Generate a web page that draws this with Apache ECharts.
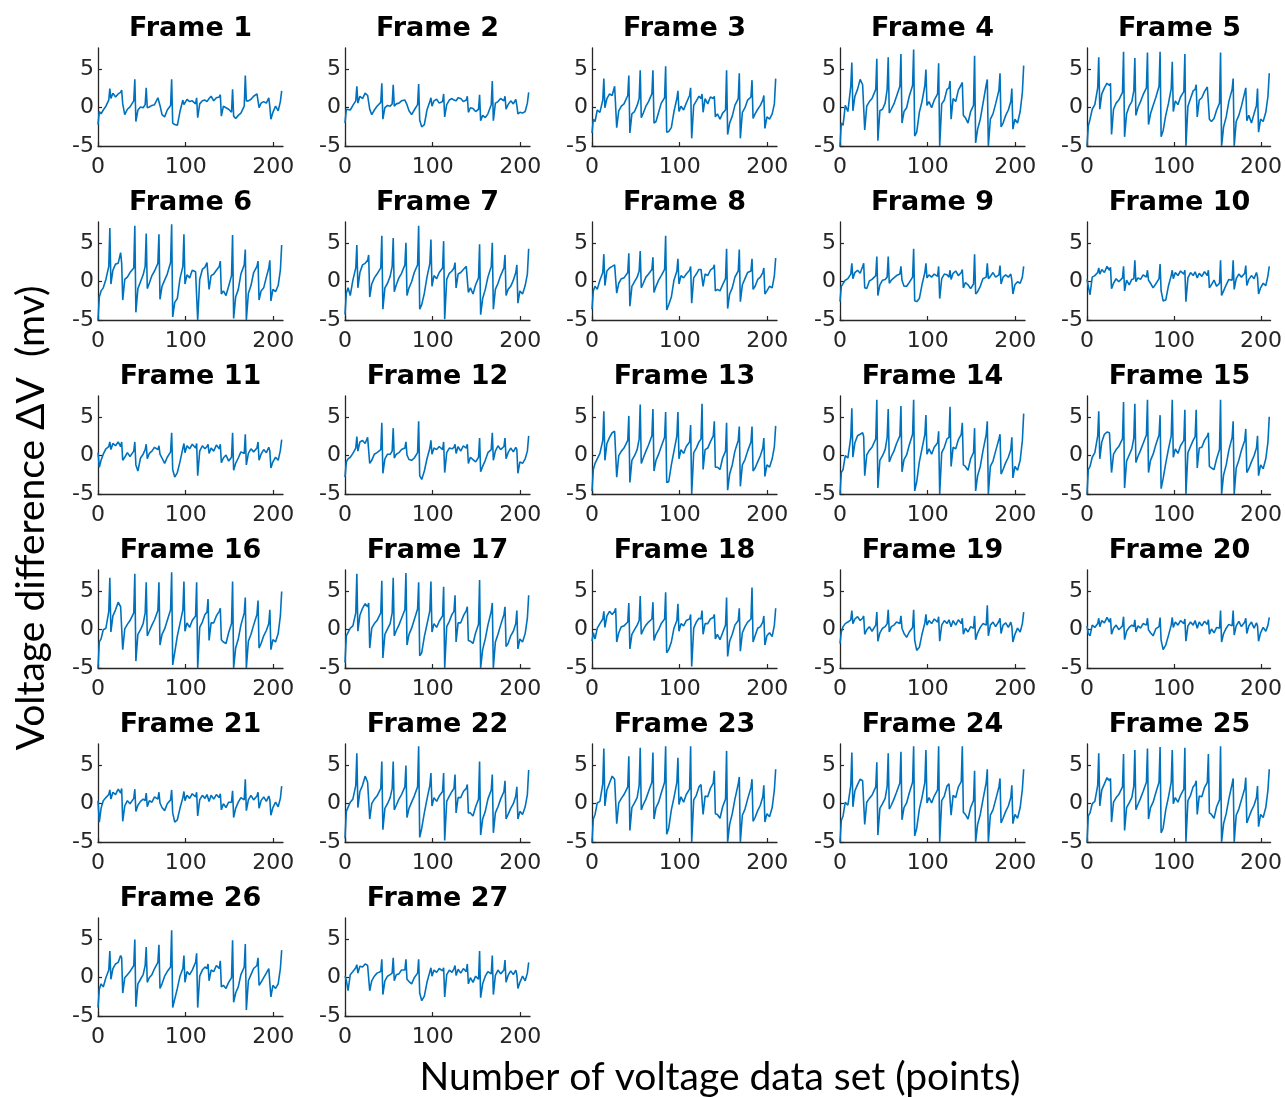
<!DOCTYPE html>
<html><head><meta charset="utf-8">
<script src="https://cdn.jsdelivr.net/npm/echarts@6/dist/echarts.min.js"></script>
<style>html,body{margin:0;padding:0;background:#fff;}#c{width:1285px;height:1097px;}</style>
</head><body><div id="c"></div>
<script>
// x positions (points) at which the traces were read
const XS = [0,1.5,3.5,6,9,12.3, 13.5,14.7,17,20,23,25.8, 27,28.2,30.5,33.5,36.5,40.8, 42,43.2,45.5,48.5,51.5,53.8, 55,56.2,58.5,61.5,64.5,68.3, 69.5,70.7,73,76,79,82.8, 84,85.2,87.5,90.5,93.5,96.8, 98,99.2,101.5,104.5,107.5,111.3, 112.5,113.7,116,119,122,124.3, 125.5,126.7,129,132,135,138.3, 139.5,140.7,143,146,149,152.3, 153.5,154.7,157,160,163,166.8, 168,169.2,171.5,174.5,177.5,181.3, 182.5,183.7,186,189,192,194.8, 196,197.2,199.5,202.5,205.5,208,209.5];

const frame1 = [-2.2,-0.5,-0.8,-0.3,0.2,1.0, 2.5,1.2,1.9,1.4,1.8,2.0, 2.3,0.5,-0.9,-0.2,0.1,0.9, 3.7,-1.8,-0.3,0.1,0.0,0.4, 2.6,0.0,0.1,0.3,0.4,1.3, 1.5,0.3,-0.9,-1.2,-0.3,0.3, 3.7,-2.0,-2.2,-2.3,-0.5,1.0, 0.4,0.2,1.1,0.8,0.9,0.5, 1.3,-1.3,0.5,0.9,1.0,0.8, 0.9,1.2,1.5,0.9,1.3,1.4, 1.7,-1.1,0.2,0.0,-0.2,-0.6, 2.4,-1.1,-1.4,-1.0,-0.7,0.2, 4.2,0.9,0.9,1.1,1.5,1.8, 2.0,0.0,0.6,0.8,0.6,1.3, 0.1,-1.5,-0.6,0.2,-0.4,0.8,2.2];
const frame2 = [-2.0,-0.2,-0.1,-0.3,0.3,0.9, 2.8,0.6,1.5,1.2,1.9,1.6, 1.8,-0.2,-0.9,-0.3,0.2,0.7, 3.2,-1.5,0.0,0.3,0.2,0.5, 3.0,0.2,0.5,0.6,0.9,1.0, 1.2,0.4,-0.4,-0.9,-0.3,0.4, 3.1,-1.6,-2.5,-2.2,-0.3,0.8, 1.3,0.2,0.9,1.1,0.6,0.8, 1.8,-1.2,0.4,1.0,1.2,1.0, 1.1,0.9,1.3,1.2,0.8,1.0, 1.5,-0.6,0.0,-0.1,-0.5,-0.2, 1.7,-1.7,-1.0,-1.3,-0.8,0.4, 3.5,-1.7,0.6,0.8,1.2,0.9, 1.5,-0.2,0.4,0.9,0.5,1.1, 0.3,-0.8,-0.6,-0.7,-0.5,0.6,2.0];
const frame3 = [-3.3,-1.5,-1.8,-0.3,-0.6,1.0, 3.8,0.0,1.2,1.8,1.6,2.8, 2.8,-2.6,-0.4,0.2,0.5,1.6, 4.2,-3.3,-0.8,-0.5,0.3,1.2, 4.9,-1.3,-0.7,0.2,0.8,1.8, 4.9,-2.0,-1.8,-0.6,0.6,1.3, 5.4,-3.2,-3.1,-2.6,-0.5,1.2, 2.2,-0.5,0.2,-0.3,0.6,1.6, 2.6,-4.0,0.3,0.9,1.5,1.2, 1.8,-0.6,1.2,0.5,1.4,1.2, 1.5,-1.2,-0.8,-1.5,-0.7,-0.3, 4.9,-3.5,-2.0,-1.1,0.3,1.2, 4.5,-4.0,-0.6,0.0,1.0,1.4, 3.6,-1.4,-0.8,-0.2,0.3,1.0, 1.6,-2.7,-1.2,-1.5,-0.8,0.5,3.8];
const frame4 = [-5.0,-2.0,-2.3,0.3,-0.5,2.8, 5.9,-0.4,1.5,2.4,3.7,3.0, 2.9,-2.9,0.2,0.8,1.2,2.4, 6.4,-4.3,-0.4,-0.2,0.6,2.4, 6.6,-0.7,-0.2,0.5,1.5,2.8, 7.0,-2.0,-0.5,0.0,1.5,2.9, 7.6,-3.7,-3.2,-0.6,0.8,2.9, 5.0,0.3,0.8,0.0,1.0,1.8, 5.8,-5.0,0.5,1.0,2.4,2.6, 3.5,-1.5,1.2,0.8,2.3,3.0, 3.3,-1.0,-1.3,-2.0,-0.5,0.3, 6.8,-4.6,-2.8,-1.5,0.5,3.0, 3.7,-5.0,-1.5,-0.8,0.5,2.3, 4.5,-2.5,-2.0,-1.0,-0.3,0.8, 2.5,-2.8,-1.5,-2.0,-0.5,2.0,5.5];
const frame5 = [-5.0,-2.4,-1.5,-0.2,0.4,2.6, 6.6,-0.2,1.8,2.6,3.2,2.9, 3.2,-3.5,-0.2,0.6,1.0,2.0, 7.3,-3.8,-0.8,0.2,0.8,2.2, 6.5,-1.0,0.0,0.8,1.7,2.6, 7.2,-2.2,-0.8,0.3,1.3,2.8, 7.3,-3.8,-3.0,-1.0,0.5,2.5, 6.0,-0.5,0.9,0.4,1.4,2.1, 7.0,-5.0,0.2,1.2,2.2,2.4, 3.0,-1.2,1.0,1.3,2.1,2.7, 2.7,-1.5,-1.8,-1.4,-0.3,0.6, 7.2,-5.0,-2.5,-1.2,0.8,2.4, 3.8,-5.0,-1.8,-1.0,0.2,2.0, 2.6,-1.7,-1.0,-2.0,-0.8,0.3, 2.5,-3.2,-1.5,-1.8,-0.6,1.5,4.5];
const frame6 = [-5.0,-2.0,-1.2,-0.8,0.3,2.0, 7.0,-0.3,1.5,2.3,2.4,3.8, 2.4,-2.4,0.3,0.6,1.2,1.8, 7.3,-4.0,-0.9,0.0,0.9,2.0, 6.3,-0.9,-0.2,0.8,1.4,2.4, 6.2,-2.3,-0.6,0.2,1.0,2.5, 7.5,-4.6,-2.7,-2.2,0.4,2.0, 6.2,-0.3,0.9,0.5,1.5,1.3, 1.2,-5.0,0.3,1.6,1.9,2.5, 2.6,-1.0,0.8,1.0,1.5,2.0, 2.7,-1.6,-1.2,-1.8,-0.6,0.8, 6.1,-4.8,-2.0,-1.0,1.0,2.2, 4.2,-5.0,-1.5,-0.5,1.2,2.0, 2.7,-2.4,-1.2,-0.8,0.6,1.8, 2.8,-2.5,-1.0,-1.3,-0.5,1.5,4.8];
const frame7 = [-4.3,-1.5,-0.8,-1.8,0.2,1.8, 4.8,-0.8,1.2,2.2,2.4,2.8, 3.5,-2.0,-0.3,0.5,1.0,1.8, 6.0,-3.6,-0.8,-0.2,0.7,2.0, 5.7,-1.3,-0.4,0.5,1.1,2.2, 5.1,-1.8,-0.8,0.0,1.2,2.2, 7.3,-3.6,-3.0,-1.5,0.6,2.4, 5.5,-0.6,0.8,0.4,1.2,1.8, 5.3,-4.9,0.3,1.1,1.4,1.8, 2.5,-0.8,1.0,1.2,1.6,2.0, 2.0,-1.4,-0.8,-1.6,-0.4,0.5, 4.9,-4.3,-2.2,-1.0,0.6,2.0, 5.1,-3.6,-1.0,-0.2,0.8,1.8, 3.5,-1.8,-1.0,-0.6,0.2,1.2, 2.2,-2.8,-1.2,-1.6,-0.5,1.0,4.3];
const frame8 = [-3.6,-1.2,-0.6,-1.0,0.2,1.2, 3.6,-0.5,1.4,1.8,2.0,2.2, 2.3,-1.5,-0.2,0.4,0.5,1.2, 3.7,-3.2,-0.6,0.0,0.6,1.4, 4.0,-0.8,-0.2,0.6,1.0,1.6, 3.2,-1.4,-0.6,0.2,0.8,1.6, 6.0,-3.7,-3.0,-2.0,0.2,1.4, 3.0,-0.3,0.8,0.5,1.0,1.5, 2.0,-2.8,0.5,1.0,1.6,1.6, 1.8,-0.6,1.0,0.8,1.5,1.8, 2.2,-1.2,-1.0,-1.2,-0.4,0.4, 4.3,-3.5,-1.6,-0.8,0.6,1.4, 4.2,-2.6,-0.4,0.4,1.2,1.4, 3.0,-1.0,-0.6,0.3,0.6,1.2, 1.8,-1.6,-1.2,-0.6,-0.8,0.8,3.1];
const frame9 = [-2.6,-0.6,-0.8,0.2,0.4,1.0, 2.4,0.4,1.2,1.5,1.1,2.0, 2.4,-0.8,-0.9,0.1,0.3,0.8, 3.3,-1.8,-0.4,0.2,0.3,0.6, 3.3,-0.2,0.2,0.5,0.8,1.0, 2.0,0.2,-0.6,-0.6,-0.1,0.6, 4.3,-2.5,-2.6,-2.2,-0.4,1.2, 2.4,0.5,0.9,0.6,1.0,0.7, 2.0,-2.2,0.4,1.0,0.9,0.6, 1.5,0.3,1.1,1.4,0.8,1.2, 1.6,-0.8,-0.1,-0.4,-0.9,-0.3, 3.6,-1.6,-1.3,-0.6,0.4,0.6, 2.4,0.4,0.7,1.2,0.6,0.9, 2.1,-0.3,0.6,0.9,0.6,1.0, 0.2,-1.6,-0.4,0.0,-0.2,0.6,2.0];
const frame10 = [0.3,-0.6,-1.7,0.6,0.8,1.2, 1.8,1.0,1.6,1.2,2.0,1.5, 1.9,-0.9,-0.2,0.4,0.0,0.5, 2.0,-1.2,0.2,-0.4,0.3,0.4, 2.8,0.0,0.5,0.3,0.9,0.6, 1.5,0.2,-0.2,-0.8,-0.3,0.4, 2.3,-1.2,-2.5,-2.4,-0.6,0.8, 1.5,0.4,1.2,0.8,1.4,1.0, 1.5,-2.6,0.5,1.2,0.8,1.3, 1.4,0.5,1.1,0.7,1.3,0.8, 1.5,-0.8,-0.4,0.2,-0.6,-0.2, 2.8,-1.8,-1.2,-0.4,0.3,0.2, 2.8,-1.0,0.4,1.0,0.6,1.1, 2.1,-0.5,0.3,0.8,0.4,1.2, 0.6,-1.6,-0.8,-0.2,-0.5,0.8,2.0];
const frame11 = [0.4,-1.5,-0.6,0.2,0.9,1.2, 1.8,0.8,1.6,1.3,1.8,1.2, 1.8,-0.6,-0.2,0.4,-0.1,0.6, 1.8,-1.2,-2.0,-0.3,0.2,0.8, 1.5,-0.4,0.3,0.6,1.1,0.8, 1.3,0.2,-0.3,-1.0,-0.2,0.5, 3.0,-1.8,-2.8,-2.2,-0.8,1.0, 1.6,0.4,1.3,0.9,1.5,1.0, 1.6,-2.6,0.6,1.3,0.9,1.2, 1.5,0.3,1.0,0.6,1.4,0.9, 1.5,-0.9,-0.3,0.1,-0.7,-0.2, 3.0,-1.9,-1.0,-0.3,0.5,0.3, 2.8,-1.2,0.3,0.9,0.5,1.0, 1.8,-0.6,0.2,0.8,0.4,1.1, 0.6,-1.6,-0.8,-0.2,-0.6,0.7,2.1];
const frame12 = [-2.8,-0.8,-0.4,-0.2,0.3,1.0, 2.5,0.6,1.8,2.0,1.6,2.4, 2.4,-1.0,-0.6,0.2,0.4,0.8, 4.3,-2.3,-0.4,0.2,0.2,0.6, 3.6,-0.3,0.2,0.4,0.8,1.0, 1.8,0.1,-0.5,-0.6,-0.3,0.4, 4.5,-2.6,-3.1,-2.0,-0.4,1.0, 2.0,0.2,1.0,0.8,1.2,0.8, 1.8,-2.2,0.4,1.0,0.9,1.1, 1.5,0.3,1.2,0.6,1.3,1.0, 1.5,-1.0,-0.2,-0.5,-0.8,-0.2, 2.3,-2.1,-1.4,-0.6,0.4,0.8, 3.0,-0.6,0.6,1.3,0.8,1.2, 2.3,-0.4,0.4,1.0,0.5,1.1, 0.8,-2.3,-0.8,-1.0,-0.4,0.6,2.6];
const frame13 = [-4.6,-1.8,-1.0,-0.4,0.3,2.0, 5.8,-0.6,1.6,2.4,3.0,3.2, 3.0,-2.8,0.0,0.6,1.0,2.0, 5.2,-3.5,-0.6,0.0,0.8,2.2, 6.7,-1.0,-0.3,0.6,1.4,2.6, 6.1,-2.0,-0.6,0.2,1.2,2.4, 5.7,-3.5,-3.4,-1.2,0.6,2.6, 5.7,-0.4,0.8,0.3,1.2,1.8, 4.0,-5.0,0.4,1.0,1.8,2.2, 6.8,-1.8,0.8,1.0,1.8,2.6, 4.5,-1.5,-1.5,-1.8,-0.3,0.6, 4.3,-4.5,-2.4,-1.2,0.6,2.0, 3.8,-4.0,-1.2,-0.5,0.6,1.8, 3.8,-2.0,-1.6,-0.8,0.0,1.0, 2.3,-2.7,-1.2,-1.5,-0.4,1.2,3.9];
const frame14 = [-5.0,-2.2,-1.8,0.0,-0.3,2.4, 6.2,-0.2,1.7,2.6,2.8,3.0, 2.5,-2.6,0.1,0.7,1.1,2.2, 7.3,-4.2,-0.6,0.0,0.8,2.4, 6.1,-0.8,-0.1,0.6,1.6,2.6, 6.5,-2.1,-0.5,0.1,1.4,2.8, 7.3,-4.6,-3.4,-0.8,0.9,2.8, 5.3,0.2,0.9,0.2,1.1,1.7, 3.2,-5.0,0.4,1.1,2.2,2.4, 6.4,-1.4,1.1,0.9,2.1,2.8, 4.3,-1.2,-1.4,-1.9,-0.4,0.4, 3.6,-4.6,-2.6,-1.4,0.6,2.8, 4.5,-5.0,-1.4,-0.7,0.6,2.2, 2.8,-2.4,-1.8,-0.9,-0.2,0.8, 2.4,-2.9,-1.4,-1.9,-0.6,2.0,5.5];
const frame15 = [-5.0,-1.8,-1.4,-0.2,0.4,2.6, 5.8,-0.4,1.8,2.8,3.1,3.0, 3.2,-2.2,0.2,0.8,1.2,2.2, 7.0,-4.2,-0.7,0.1,0.9,2.3, 6.8,-0.9,-0.1,0.7,1.6,2.7, 7.3,-2.2,-0.6,0.2,1.4,2.7, 5.3,-4.3,-3.0,-1.0,0.8,2.6, 7.3,-0.2,0.9,0.3,1.3,2.0, 6.0,-5.0,0.4,1.2,2.0,2.5, 6.0,-1.6,1.0,1.1,2.0,2.6, 3.0,-1.4,-1.6,-1.8,-0.4,0.8, 7.3,-5.0,-2.5,-1.2,0.7,2.4, 4.5,-5.0,-1.6,-0.6,0.7,2.0, 3.5,-2.2,-1.7,-0.8,0.0,1.0, 2.6,-2.6,-1.2,-1.7,-0.4,1.8,5.1];
const frame16 = [-5.0,-1.6,-1.2,0.0,0.2,2.4, 6.8,-0.3,1.8,2.6,3.6,3.0, 2.8,-2.6,0.1,0.7,1.2,2.2, 7.3,-4.1,-0.6,0.0,0.8,2.2, 6.2,-0.8,-0.2,0.6,1.3,2.5, 6.2,-2.0,-0.6,0.1,1.2,2.6, 7.5,-4.6,-3.0,-0.8,0.8,2.6, 6.3,-0.2,0.9,0.3,1.2,1.8, 6.2,-5.0,0.3,1.0,2.0,2.3, 4.0,-1.4,0.9,0.9,1.8,2.4, 2.8,-1.3,-1.6,-1.8,-0.4,0.8, 6.3,-5.0,-2.4,-1.2,0.6,2.2, 4.2,-5.0,-1.5,-0.6,0.6,2.0, 3.8,-2.4,-1.8,-0.8,-0.1,0.8, 2.6,-2.6,-1.3,-1.6,-0.5,1.8,5.0];
const frame17 = [-4.3,-0.8,-1.0,0.2,0.5,2.2, 7.3,-0.2,1.9,2.8,3.4,3.0, 3.5,-2.4,0.2,0.8,1.2,2.2, 6.4,-3.7,-0.6,0.1,0.8,2.2, 6.8,-0.8,-0.1,0.6,1.5,2.6, 7.4,-2.0,-0.6,0.2,1.3,2.7, 6.2,-3.4,-3.0,-0.9,0.7,2.5, 6.3,-0.3,0.8,0.3,1.1,1.8, 5.6,-5.0,0.4,1.1,2.0,2.4, 4.5,-1.6,0.9,0.9,1.8,2.5, 3.0,-1.4,-1.5,-1.8,-0.4,0.7, 6.5,-5.0,-2.6,-1.2,0.6,2.4, 3.5,-5.0,-1.6,-0.6,0.6,2.0, 3.0,-2.2,-1.8,-0.8,-0.2,0.8, 2.5,-2.5,-1.2,-1.6,-0.5,1.5,4.5];
const frame18 = [-1.5,-0.4,-1.2,0.2,0.8,1.4, 2.4,0.3,1.8,2.4,2.0,2.4, 2.8,-1.6,-0.4,0.4,0.5,1.0, 3.5,-2.5,-0.6,0.0,0.6,1.2, 4.4,-0.6,0.0,0.6,1.0,1.4, 3.6,-1.4,-0.6,0.0,0.8,1.4, 4.9,-3.0,-2.6,-1.6,0.2,1.2, 3.4,-0.2,0.8,0.5,1.2,1.4, 2.0,-4.8,0.2,1.0,1.5,1.4, 2.5,-0.6,0.8,0.8,1.4,1.6, 2.0,-1.2,-0.6,-1.3,-0.4,0.6, 4.2,-3.5,-1.5,-0.6,0.6,1.2, 2.8,-2.8,-0.4,0.4,1.0,1.4, 5.5,-1.6,-0.8,0.2,0.4,1.0, 1.8,-2.0,-0.8,-0.4,-0.9,0.6,2.8];
const frame19 = [-1.8,-0.3,0.4,0.8,1.0,1.3, 2.5,0.8,1.4,1.7,1.2,1.5, 1.8,-0.6,0.0,0.4,-0.2,0.6, 2.3,-1.5,-0.4,0.2,0.4,0.8, 2.6,-0.3,0.4,0.6,1.0,0.8, 1.8,0.2,-0.5,-1.0,-0.3,0.3, 2.6,-1.4,-2.7,-2.3,-0.6,0.9, 2.0,0.6,1.2,0.8,1.4,1.0, 1.7,-1.5,0.6,1.2,0.8,1.3, 1.4,0.4,1.2,0.6,1.3,0.8, 1.5,-0.6,0.2,-0.3,0.4,0.2, 1.8,-1.3,-0.4,0.3,0.8,0.6, 3.2,-0.8,0.6,1.0,0.4,1.1, 1.5,-0.5,0.6,0.9,0.3,1.0, 0.4,-1.6,-0.6,0.2,-0.3,0.8,2.3];
const frame20 = [0.5,-0.5,-0.8,0.6,0.3,0.8, 1.5,0.4,1.2,0.9,1.6,1.0, 1.5,-0.6,0.2,0.6,0.0,0.5, 1.7,-1.3,-0.2,0.3,0.6,0.4, 1.3,-0.3,0.5,0.2,0.8,0.6, 1.5,0.0,-0.4,-0.8,0.1,0.4, 1.6,-1.4,-2.6,-2.0,-0.8,0.6, 1.6,0.3,1.0,0.6,1.2,0.8, 1.4,-1.5,0.5,1.0,0.6,1.2, 1.3,0.2,1.0,0.5,1.1,0.7, 1.3,-0.6,0.1,-0.4,0.3,0.2, 2.5,-1.6,-0.5,0.2,0.7,0.5, 2.5,-0.7,0.5,1.1,0.4,1.0, 1.5,-0.5,0.5,1.0,0.2,0.9, 0.5,-1.5,-0.4,0.3,-0.2,0.6,1.6];
const frame21 = [0.4,-2.4,-0.6,0.4,0.8,1.2, 1.8,0.6,1.5,1.2,1.9,1.4, 2.0,-2.3,-0.3,0.4,0.0,0.7, 1.9,-1.0,-0.2,0.3,0.6,0.4, 1.4,-0.4,0.4,0.2,0.9,0.6, 1.5,0.1,-0.5,-0.9,0.0,0.5, 1.8,-1.2,-2.4,-2.1,-0.6,0.8, 1.6,0.4,1.1,0.7,1.3,0.9, 1.5,-1.6,0.5,1.1,0.7,1.2, 1.3,0.3,1.1,0.6,1.2,0.8, 1.3,-0.8,0.0,-0.5,0.2,0.2, 1.7,-1.8,-0.6,0.2,0.8,0.5, 3.2,-0.9,0.5,1.1,0.5,1.0, 1.5,-0.6,0.4,0.9,0.3,1.0, 0.5,-1.5,-0.5,0.2,-0.4,0.7,2.3];
const frame22 = [-4.5,-1.0,-0.8,0.2,0.6,2.4, 6.6,-0.5,1.6,2.4,3.6,2.8, 3.0,-2.0,0.0,0.6,1.0,2.0, 5.5,-3.4,-0.6,0.0,0.8,2.0, 5.5,-0.8,-0.2,0.6,1.2,2.2, 5.0,-1.8,-0.6,0.2,1.0,2.2, 7.5,-4.4,-3.2,-1.2,0.6,2.4, 4.0,-0.3,0.8,0.3,1.0,1.6, 4.0,-4.8,0.3,1.0,1.6,2.0, 3.8,-1.2,0.8,0.8,1.6,2.0, 2.5,-1.2,-1.2,-1.6,-0.4,0.6, 5.5,-4.1,-2.0,-1.0,0.6,1.8, 3.8,-3.8,-1.2,-0.4,0.6,1.6, 3.0,-2.0,-1.4,-0.6,0.0,1.0, 2.2,-2.0,-1.0,-1.4,-0.4,1.2,4.4];
const frame23 = [-5.0,-2.0,-1.4,0.1,0.3,2.6, 7.2,-0.3,1.8,2.7,3.6,3.2, 3.0,-2.6,0.1,0.7,1.2,2.2, 6.2,-3.5,-0.5,0.1,0.8,2.4, 7.3,-0.8,-0.1,0.6,1.6,2.8, 6.7,-2.0,-0.5,0.2,1.4,2.8, 7.5,-4.0,-3.2,-0.8,0.8,2.8, 6.0,-0.1,0.9,0.2,1.2,1.9, 7.5,-5.0,0.5,1.1,2.2,2.5, 2.5,-1.4,1.0,0.9,2.0,2.7, 4.3,-1.3,-1.4,-1.9,-0.4,0.6, 6.9,-5.0,-2.7,-1.3,0.6,2.6, 3.5,-5.0,-1.5,-0.7,0.6,2.1, 3.2,-2.3,-1.8,-0.9,-0.2,0.9, 2.4,-2.4,-1.3,-1.7,-0.5,1.8,4.5];
const frame24 = [-5.0,-2.2,-1.6,0.2,-0.2,2.4, 6.7,-0.4,1.7,2.5,3.2,3.0, 3.0,-2.7,0.2,0.7,1.1,2.2, 5.4,-4.1,-0.6,0.0,0.7,2.3, 6.6,-0.7,-0.2,0.6,1.5,2.7, 6.8,-2.1,-0.5,0.1,1.4,2.8, 7.5,-4.2,-3.2,-0.7,0.8,2.8, 7.0,0.1,0.8,0.1,1.0,1.8, 7.5,-5.0,0.4,1.0,2.3,2.6, 2.8,-1.5,1.1,0.8,2.2,2.9, 7.5,-1.1,-1.4,-2.0,-0.5,0.4, 4.3,-5.0,-2.7,-1.4,0.5,2.8, 4.5,-5.0,-1.5,-0.8,0.5,2.2, 3.3,-2.5,-1.9,-1.0,-0.3,0.8, 2.4,-2.6,-1.4,-1.9,-0.5,1.9,4.5];
const frame25 = [-5.0,-1.6,-1.2,0.0,0.3,2.4, 6.6,-0.3,1.8,2.6,3.4,3.0, 3.3,-2.4,0.2,0.8,1.2,2.2, 6.5,-3.5,-0.5,0.1,0.8,2.3, 7.0,-0.8,-0.1,0.7,1.6,2.8, 7.2,-2.0,-0.5,0.2,1.4,2.8, 7.4,-3.8,-3.2,-0.8,0.8,2.8, 7.0,0.0,0.8,0.2,1.1,1.9, 7.3,-5.0,0.4,1.1,2.2,2.5, 3.0,-1.4,1.0,0.9,2.1,2.8, 6.5,-1.2,-1.4,-1.9,-0.4,0.5, 7.5,-5.0,-2.6,-1.3,0.6,2.6, 3.3,-5.0,-1.5,-0.7,0.5,2.0, 3.4,-2.5,-1.8,-0.9,-0.2,0.8, 2.3,-3.0,-1.4,-1.8,-0.5,1.8,4.5];
const frame26 = [-3.9,-1.5,-0.8,-1.2,0.0,1.0, 3.5,-0.2,1.2,1.8,2.0,2.9, 2.6,-2.0,0.0,0.4,0.8,1.6, 5.0,-3.8,-0.8,-0.2,0.4,1.6, 4.0,-0.6,0.0,0.4,1.2,2.0, 4.3,-1.4,-0.8,0.2,0.8,1.4, 6.2,-3.9,-2.8,-1.4,0.2,1.2, 2.9,-0.6,0.8,0.4,1.0,2.0, 3.2,-3.9,0.2,1.0,1.4,1.2, 1.8,-0.4,1.0,0.8,1.6,1.2, 2.2,-1.2,-1.0,-1.4,-0.6,0.0, 4.9,-3.2,-2.0,-1.2,0.4,1.4, 4.4,-4.2,-0.4,0.4,1.2,1.6, 2.6,-1.0,-0.6,0.0,0.6,1.2, 1.0,-2.5,-1.0,-1.4,-0.8,1.2,3.6];
const frame27 = [0.2,-0.3,-1.7,0.4,0.8,1.3, 1.7,0.6,1.5,1.4,1.8,1.6, 1.6,-1.7,-0.4,0.2,0.6,0.8, 2.4,-2.2,-0.4,0.2,0.4,0.6, 2.6,-0.4,0.4,0.5,1.0,1.0, 2.4,-0.2,-0.5,-0.8,0.0,0.6, 2.4,-2.0,-3.0,-2.4,-0.6,0.8, 1.3,0.2,1.0,0.7,1.2,0.9, 1.3,-2.5,0.4,1.0,0.7,1.2, 1.6,0.3,1.1,0.6,1.2,0.8, 1.8,-0.8,0.0,-0.6,0.2,-0.2, 3.5,-2.6,-0.8,0.2,0.8,0.5, 2.9,-2.2,0.3,1.0,0.5,1.0, 2.3,-0.6,0.3,0.9,0.4,1.0, 0.4,-1.4,-0.6,0.2,-0.4,0.6,2.0];

const FRAMES = [frame1,frame2,frame3,frame4,frame5,frame6,frame7,frame8,frame9,frame10,frame11,frame12,frame13,frame14,frame15,frame16,frame17,frame18,frame19,frame20,frame21,frame22,frame23,frame24,frame25,frame26,frame27];
const X_TICKS = [0, 100, 200];
const Y_TICKS = [-5, 0, 5];

// layout
const COL_LEFT = [98, 345, 592, 840, 1087];
const ROW_TOP = [48, 222, 396, 570, 744, 918];
const PW = 185, PH = 98;
const AX = '#262626';

const grids = [], xAxes = [], yAxes = [], series = [], graphics = [];
const bad = [];
FRAMES.forEach((ys, i) => {
  if (ys.length !== XS.length) bad.push((i + 1) + ':' + ys.length);
  const r = Math.floor(i / 5), c = i % 5;
  const left = COL_LEFT[c], top = ROW_TOP[r];
  grids.push({left: left, top: top, width: PW, height: PH, containLabel: false});
  xAxes.push({
    gridIndex: i, type: 'value', min: 0, max: 211, interval: 100,
    axisLine: {show: true, onZero: false, lineStyle: {color: AX, width: 1.3}},
    axisTick: {show: true, inside: true, length: 4, customValues: X_TICKS, lineStyle: {color: AX, width: 1.2}},
    axisLabel: {customValues: X_TICKS, margin: 10, fontFamily: 'DejaVu Sans', fontSize: 22, color: AX},
    splitLine: {show: false}
  });
  yAxes.push({
    gridIndex: i, type: 'value', min: -5, max: 7.8, interval: 5,
    axisLine: {show: true, onZero: false, lineStyle: {color: AX, width: 1.3}},
    axisTick: {show: true, inside: true, length: 4, customValues: Y_TICKS, lineStyle: {color: AX, width: 1.2}},
    axisLabel: {customValues: Y_TICKS, margin: 4, fontFamily: 'DejaVu Sans', fontSize: 22, color: AX},
    splitLine: {show: false}
  });
  series.push({
    type: 'line', xAxisIndex: i, yAxisIndex: i,
    data: XS.map((x, k) => [x, ys[k]]),
    showSymbol: false, symbol: 'none', clip: true, silent: true,
    lineStyle: {color: '#0072BD', width: 1.6}
  });
  graphics.push({
    type: 'text', x: left + PW / 2, y: top - 19,
    style: {text: 'Frame ' + (i + 1), font: 'bold 27px "DejaVu Sans"', fill: '#000',
      textAlign: 'center', textVerticalAlign: 'middle'}
  });
});
graphics.push({
  type: 'text', x: 31, y: 518, rotation: Math.PI / 2,
  style: {text: 'Voltage difference ΔV  (mv)', font: '39px Lato', fill: '#000',
    textAlign: 'center', textVerticalAlign: 'middle'}
});
graphics.push({
  type: 'text', x: 720, y: 1077,
  style: {text: 'Number of voltage data set (points)', font: '39px Lato', fill: '#000',
    textAlign: 'center', textVerticalAlign: 'middle'}
});
if (bad.length) {
  graphics.push({type: 'text', x: 700, y: 960, style: {text: 'LEN MISMATCH ' + bad.join(' '), font: '20px sans-serif', fill: 'red'}});
}

const chart = echarts.init(document.getElementById('c'), null, {renderer: 'canvas'});
chart.setOption({
  animation: false,
  backgroundColor: '#fff',
  grid: grids, xAxis: xAxes, yAxis: yAxes, series: series,
  graphic: {elements: graphics}
});
</script></body></html>
